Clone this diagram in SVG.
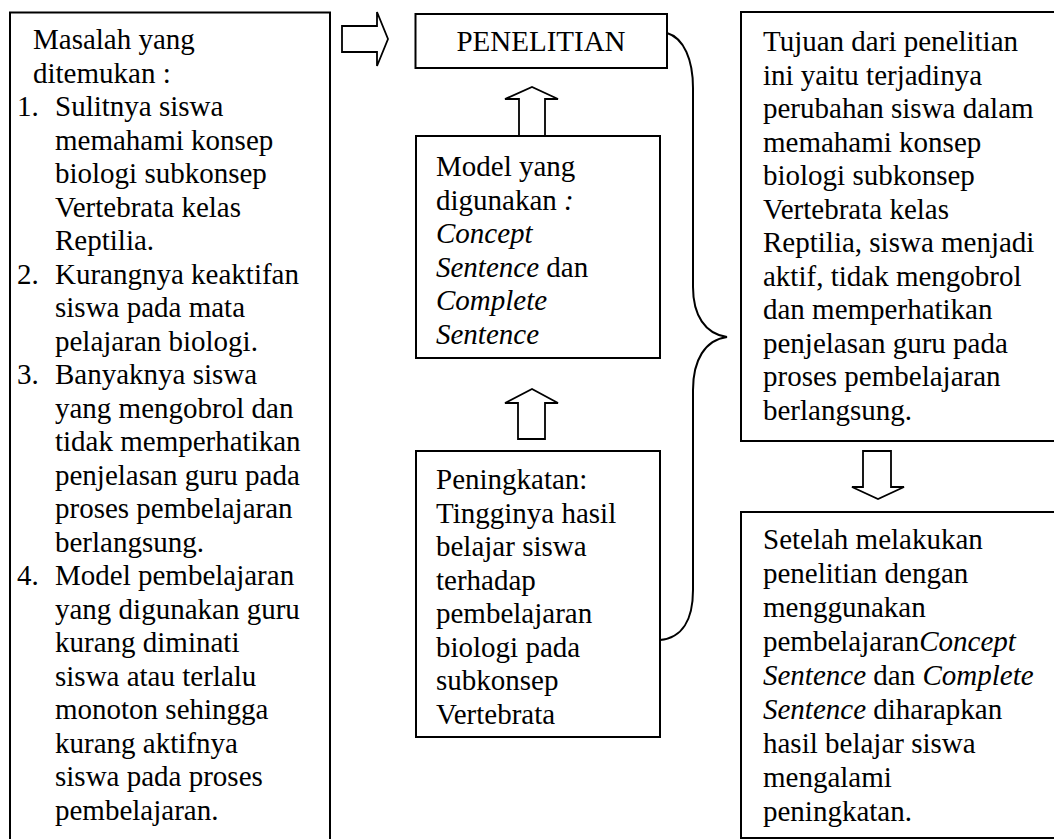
<svg xmlns="http://www.w3.org/2000/svg" width="1054" height="839" viewBox="0 0 1054 839">
<style>
.box{fill:#fff;stroke:#000;stroke-width:2}
.arr{fill:#fff;stroke:#000;stroke-width:1.8;stroke-linejoin:miter}
.brace{fill:none;stroke:#000;stroke-width:2}
text{font-family:"Liberation Serif","Times New Roman",serif;font-size:29px;fill:#000}
.i{font-style:italic}
</style>
<rect width="1054" height="839" fill="#fff"/>
<g id="masalah">
<rect class="box" x="10" y="12.5" width="320" height="900"/>
<text x="33" y="49">Masalah yang</text>
<text x="33" y="82.5">ditemukan :</text>
<text x="17" y="116">1.</text><text x="55" y="116">Sulitnya siswa</text>
<text x="55" y="149.5">memahami konsep</text>
<text x="55" y="183">biologi subkonsep</text>
<text x="55" y="216.5">Vertebrata kelas</text>
<text x="55" y="250">Reptilia.</text>
<text x="17" y="283.5">2.</text><text x="55" y="283.5">Kurangnya keaktifan</text>
<text x="55" y="317">siswa pada mata</text>
<text x="55" y="350.5">pelajaran biologi.</text>
<text x="17" y="384">3.</text><text x="55" y="384">Banyaknya siswa</text>
<text x="55" y="417.5">yang mengobrol dan</text>
<text x="55" y="451">tidak memperhatikan</text>
<text x="55" y="484.5">penjelasan guru pada</text>
<text x="55" y="518">proses pembelajaran</text>
<text x="55" y="551.5">berlangsung.</text>
<text x="17" y="585">4.</text><text x="55" y="585">Model pembelajaran</text>
<text x="55" y="618.5">yang digunakan guru</text>
<text x="55" y="652">kurang diminati</text>
<text x="55" y="685.5">siswa atau terlalu</text>
<text x="55" y="719">monoton sehingga</text>
<text x="55" y="752.5">kurang aktifnya</text>
<text x="55" y="786">siswa pada proses</text>
<text x="55" y="819.5">pembelajaran.</text>
</g>
<g id="penelitian">
<rect class="box" x="415.5" y="14" width="251.5" height="54"/>
<text x="541" y="51" text-anchor="middle">PENELITIAN</text>
</g>
<g id="model">
<rect class="box" x="416" y="136" width="244" height="222"/>
<text x="436" y="176">Model yang</text>
<text x="436" y="209.5">digunakan<tspan class="i"> :</tspan></text>
<text x="436" y="243" class="i">Concept</text>
<text x="436" y="276.5"><tspan class="i">Sentence</tspan> dan</text>
<text x="436" y="310" class="i">Complete</text>
<text x="436" y="343.5" class="i">Sentence</text>
</g>
<g id="peningkatan">
<rect class="box" x="416" y="451" width="244" height="286"/>
<text x="436" y="489">Peningkatan:</text>
<text x="436" y="522.5">Tingginya hasil</text>
<text x="436" y="556">belajar siswa</text>
<text x="436" y="589.5">terhadap</text>
<text x="436" y="623">pembelajaran</text>
<text x="436" y="656.5">biologi pada</text>
<text x="436" y="690">subkonsep</text>
<text x="436" y="723.5">Vertebrata</text>
</g>
<g id="tujuan">
<rect class="box" x="741" y="12" width="400" height="429"/>
<text x="763" y="51">Tujuan dari penelitian</text>
<text x="763" y="84.5">ini yaitu terjadinya</text>
<text x="763" y="118">perubahan siswa dalam</text>
<text x="763" y="151.5">memahami konsep</text>
<text x="763" y="185">biologi subkonsep</text>
<text x="763" y="218.5">Vertebrata kelas</text>
<text x="763" y="252">Reptilia, siswa menjadi</text>
<text x="763" y="285.5">aktif, tidak mengobrol</text>
<text x="763" y="319">dan memperhatikan</text>
<text x="763" y="352.5">penjelasan guru pada</text>
<text x="763" y="386">proses pembelajaran</text>
<text x="763" y="419.5">berlangsung.</text>
</g>
<g id="setelah">
<rect class="box" x="741" y="512" width="400" height="326"/>
<text x="763" y="549">Setelah melakukan</text>
<text x="763" y="583">penelitian dengan</text>
<text x="763" y="617">menggunakan</text>
<text x="763" y="651">pembelajaran<tspan class="i">Concept</tspan></text>
<text x="763" y="685"><tspan class="i">Sentence</tspan> dan <tspan class="i">Complete</tspan></text>
<text x="763" y="719"><tspan class="i">Sentence</tspan> diharapkan</text>
<text x="763" y="753">hasil belajar siswa</text>
<text x="763" y="787">mengalami</text>
<text x="763" y="821">peningkatan.</text>
</g>
<g id="connectors">
<polygon class="arr" points="342,26 377,26 377,12 388,39 377,66 377,52 342,52"/>
<polygon class="arr" points="519,136 519,99 505,99 532,87 558,99 545,99 545,136"/>
<polygon class="arr" points="518,439 518,403 505,403 532,389 558,403 545,403 545,439"/>
<polygon class="arr" points="863,451 891,451 891,487 904,487 878,499 852,487 863,487"/>
<path class="brace" d="M667,33 C684,38 693,60 693,88 L693,287 C693,315 705,334 727,337 C705,340 693,360 693,390 L693,590 C693,620 682,638 660,640"/>
</g>
</svg>
